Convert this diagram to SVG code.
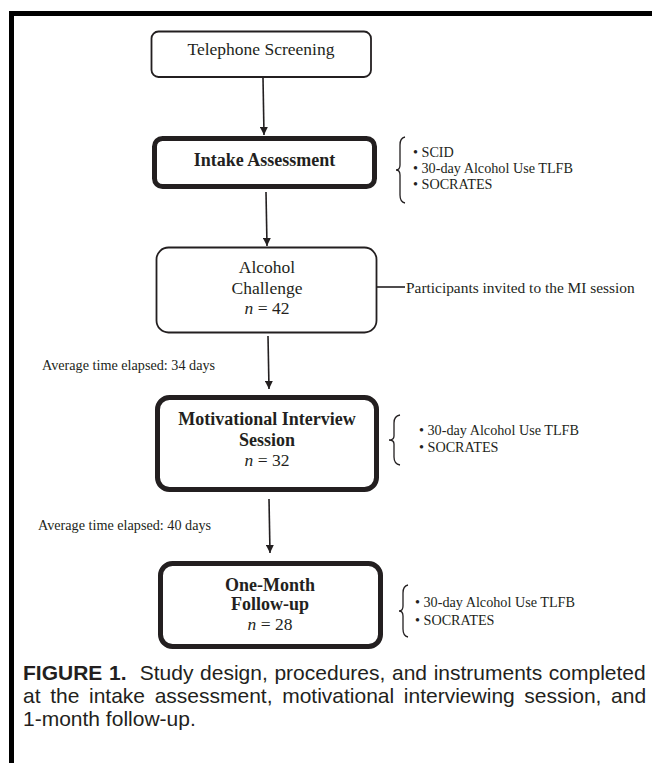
<svg xmlns="http://www.w3.org/2000/svg" width="652" height="763" viewBox="0 0 652 763">
<style>
.serif{font-family:"Liberation Serif","Times New Roman",serif;fill:#231f20}
.t{font-size:17.5px}
.b{font-size:18px;font-weight:bold}
.s{font-size:14.2px}
.cap{font-family:"Liberation Sans",Arial,sans-serif;font-size:21px;fill:#231f20}
.thin{fill:#fff;stroke:#231f20;stroke-width:1.8}
.thick{fill:#fff;stroke:#231f20;stroke-width:5}
.ln{stroke:#231f20;stroke-width:1.6;fill:none}
.br{stroke:#231f20;stroke-width:1.3;fill:none}
</style>
<defs>
<marker id="ah" viewBox="0 0 10 10" refX="10" refY="5" markerWidth="8" markerHeight="8" markerUnits="userSpaceOnUse" orient="auto">
<path d="M0,0 L10,5 L0,10 z" fill="#231f20"/>
</marker>
</defs>
<rect width="652" height="763" fill="#fff"/>
<g id="frame">
<path d="M11.5,763 V13.5 H652" fill="none" stroke="#000" stroke-width="5"/>
</g>
<g id="connectors">
<line class="ln" x1="263" y1="78" x2="264" y2="135" marker-end="url(#ah)"/>
<line class="ln" x1="266" y1="192" x2="267" y2="246" marker-end="url(#ah)"/>
<line class="ln" x1="268" y1="336" x2="269" y2="389" marker-end="url(#ah)"/>
<line class="ln" x1="269" y1="499" x2="270" y2="553" marker-end="url(#ah)"/>
<line class="ln" x1="377" y1="287" x2="405" y2="287"/>
</g>
<g id="telephone">
<rect class="thin" x="151.5" y="31.5" width="219.5" height="45.5" rx="7"/>
<text class="serif t" x="261" y="55" text-anchor="middle">Telephone Screening</text>
</g>
<g id="intake">
<rect class="thick" x="154.5" y="138.5" width="220" height="48" rx="8"/>
<text class="serif b" x="264.5" y="166" text-anchor="middle">Intake Assessment</text>
</g>
<g id="intake-list">
<path class="br" d="M405,137 Q400,138 400,145 V165 Q400,170 396,170 Q400,170 400,175 V195 Q400,202 405,203"/>
<text class="serif s" x="413" y="157">• SCID</text>
<text class="serif s" x="413" y="173">• 30-day Alcohol Use TLFB</text>
<text class="serif s" x="413" y="189">• SOCRATES</text>
</g>
<g id="alcohol">
<rect class="thin" x="156.5" y="247.5" width="220" height="85" rx="12"/>
<text class="serif t" x="267" y="273" text-anchor="middle">Alcohol</text>
<text class="serif t" x="267" y="294" text-anchor="middle">Challenge</text>
<text class="serif t" x="267" y="314" text-anchor="middle"><tspan font-style="italic">n</tspan> = 42</text>
</g>
<g id="invited">
<text class="serif" x="406" y="293" font-size="15.4">Participants invited to the MI session</text>
</g>
<g id="gap1">
<text class="serif s" x="42" y="370">Average time elapsed: 34 days</text>
</g>
<g id="mi">
<rect class="thick" x="157.5" y="397.5" width="219" height="92" rx="12"/>
<text class="serif b" x="267" y="425" text-anchor="middle">Motivational Interview</text>
<text class="serif b" x="267" y="446" text-anchor="middle">Session</text>
<text class="serif t" x="267" y="466" text-anchor="middle" font-size="18"><tspan font-style="italic">n</tspan> = 32</text>
</g>
<g id="mi-list">
<path class="br" d="M400,415 Q394,416 394,423 V436 Q394,440 389,440 Q394,440 394,444 V457 Q394,464 400,465"/>
<text class="serif s" x="419" y="435">• 30-day Alcohol Use TLFB</text>
<text class="serif s" x="419" y="452">• SOCRATES</text>
</g>
<g id="gap2">
<text class="serif s" x="38" y="530">Average time elapsed: 40 days</text>
</g>
<g id="followup">
<rect class="thick" x="160.5" y="563.5" width="220" height="83" rx="12"/>
<text class="serif b" x="270" y="591" text-anchor="middle">One-Month</text>
<text class="serif b" x="270" y="610" text-anchor="middle">Follow-up</text>
<text class="serif t" x="270" y="630" text-anchor="middle" font-size="18"><tspan font-style="italic">n</tspan> = 28</text>
</g>
<g id="followup-list">
<path class="br" d="M408,585 Q403,586 403,593 V606 Q403,611 399,611 Q403,611 403,616 V629 Q403,636 408,637"/>
<text class="serif s" x="415" y="607">• 30-day Alcohol Use TLFB</text>
<text class="serif s" x="415" y="625">• SOCRATES</text>
</g>
<g id="caption">
<text class="cap" x="23" y="680" word-spacing="0.8" xml:space="preserve"><tspan font-weight="bold">FIGURE 1.</tspan>  Study design, procedures, and instruments completed</text>
<text class="cap" x="23" y="703" word-spacing="3.8">at the intake assessment, motivational interviewing session, and</text>
<text class="cap" x="23" y="726">1-month follow-up.</text>
</g>
</svg>
